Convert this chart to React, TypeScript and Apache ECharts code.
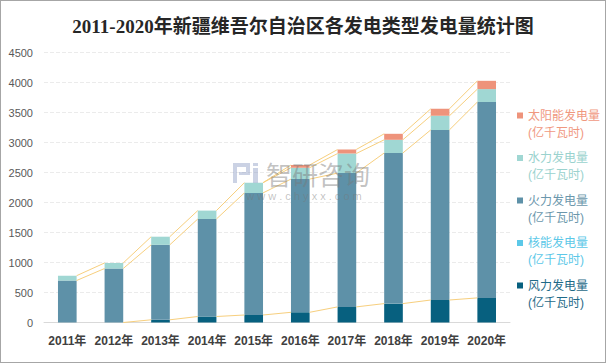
import React, { useEffect, useRef } from "react";
import * as echarts from "echarts";

const categories = ["2011年", "2012年", "2013年", "2014年", "2015年", "2016年", "2017年", "2018年", "2019年", "2020年"];
const windValues: (number | null)[] = [null, 0, 45, 100, 125, 170, 260, 315, 375, 410];
const nuclearValues: (number | null)[] = [null, null, null, null, null, null, null, null, null, null];
const fireValues: (number | null)[] = [700, 900, 1250, 1625, 2035, 2220, 2230, 2510, 2835, 3265];
const hydroValues: (number | null)[] = [80, 92, 135, 140, 170, 190, 326, 220, 235, 215];
const solarValues: (number | null)[] = [null, null, null, null, 0, 45, 67, 100, 116, 138];
const yTicks = { min: 0, max: 4500, interval: 500 };

const seriesNames = [
  "风力发电量(亿千瓦时)",
  "核能发电量(亿千瓦时)",
  "火力发电量(亿千瓦时)",
  "水力发电量(亿千瓦时)",
  "太阳能发电量(亿千瓦时)",
];
const seriesValues = [windValues, nuclearValues, fireValues, hydroValues, solarValues];
const seriesColors = ["#07607F", "#5CC8E8", "#5E91A8", "#A0D7D3", "#EE937B"];
const legendTextColors = ["#1F6A88", "#5CC8E8", "#6B97AC", "#9AD2CE", "#F0987F"];

const FONT = "'Liberation Sans', 'Noto Sans CJK SC', sans-serif";

function buildSeriesLines() {
  const segs: number[][] = [];
  for (let s = 0; s < seriesValues.length; s++) {
    const tops: (number | null)[] = categories.map((_, i) => {
      if (seriesValues[s][i] === null) return null;
      let sum = 0;
      for (let k = 0; k <= s; k++) sum += (seriesValues[k][i] as number) || 0;
      return sum;
    });
    for (let i = 0; i < categories.length - 1; i++) {
      if (tops[i] !== null && tops[i + 1] !== null) segs.push([i, tops[i] as number, i + 1, tops[i + 1] as number]);
    }
  }
  return segs;
}

export default function App() {
  const ref = useRef<HTMLDivElement>(null);
  useEffect(() => {
    if (!ref.current) return;
    const chart = echarts.init(ref.current, undefined, { renderer: "svg" });
    const barSeries = seriesNames.map((name, idx) => ({
      name,
      type: "bar",
      stack: "total",
      barWidth: "40%",
      data: seriesValues[idx],
      itemStyle: { color: seriesColors[idx] },
      z: 2,
    }));
    const legendOrder = [4, 3, 2, 1, 0];
    const wm = "rgba(140,155,195,0.45)";
    const option: any = {
      animation: false,
      backgroundColor: "#ffffff",
      title: {
        text: "2011-2020年新疆维吾尔自治区各发电类型发电量统计图",
        left: "center",
        top: 11,
        textStyle: {
          fontFamily: "'Liberation Serif', 'Noto Sans CJK SC', serif",
          fontSize: 19,
          fontWeight: "bold",
          color: "#262626",
        },
      },
      grid: { left: 43, right: 95, top: 51.5, bottom: 39.5, containLabel: false },
      legend: {
        orient: "vertical",
        left: 516,
        top: 106,
        padding: 0,
        itemGap: 8.5,
        itemWidth: 6,
        itemHeight: 23,
        icon: "path://M0,0H6V6H0Z M0,22.99H0.01V23H0Z",
        selectedMode: false,
        formatter: (n: string) => n.replace("(", "\n("),
        textStyle: { fontFamily: FONT, fontSize: 12, lineHeight: 17 },
        data: legendOrder.map((i) => ({ name: seriesNames[i], textStyle: { color: legendTextColors[i] } })),
      },
      xAxis: {
        type: "category",
        data: categories,
        axisTick: { show: false },
        axisLine: { lineStyle: { color: "#D9D9D9" } },
        axisLabel: { fontFamily: FONT, fontSize: 12, fontWeight: "bold", color: "#404040", margin: 12, interval: 0 },
      },
      yAxis: {
        type: "value",
        min: yTicks.min,
        max: yTicks.max,
        interval: yTicks.interval,
        axisLine: { show: false },
        axisTick: { show: false },
        axisLabel: { fontFamily: FONT, fontSize: 11, color: "#595959", margin: 11, formatter: (v: number) => String(v) },
        splitLine: { lineStyle: { color: "#EBEBEB", type: [4, 2] } },
      },
      graphic: [
        { type: "rect", shape: { x: 232, y: 162, width: 17, height: 4 }, style: { fill: wm }, z: 10 },
        { type: "rect", shape: { x: 232, y: 166, width: 4, height: 16 }, style: { fill: wm }, z: 10 },
        { type: "rect", shape: { x: 245, y: 166, width: 4, height: 8 }, style: { fill: wm }, z: 10 },
        { type: "rect", shape: { x: 238, y: 171, width: 7, height: 3 }, style: { fill: wm }, z: 10 },
        { type: "rect", shape: { x: 252, y: 162, width: 5, height: 3 }, style: { fill: wm }, z: 10 },
        { type: "rect", shape: { x: 252, y: 167, width: 5, height: 15 }, style: { fill: wm }, z: 10 },
        {
          type: "text",
          x: 265,
          y: 172,
          z: 10,
          style: {
            text: "智研咨询",
            font: "26px 'Noto Sans CJK SC', sans-serif",
            fill: "rgba(120,120,120,0.45)",
            verticalAlign: "middle",
          },
        },
        {
          type: "text",
          x: 303,
          y: 195,
          z: 10,
          style: {
            text: "w w w . c h y x x . c o m",
            font: "11px 'Liberation Sans', sans-serif",
            fill: "rgba(120,120,120,0.45)",
            align: "center",
            verticalAlign: "middle",
          },
        },
      ],
      series: [
        ...barSeries,
        {
          type: "custom",
          name: "serieslines",
          silent: true,
          z: 5,
          encode: { x: [0, 2], y: [1, 3] },
          data: buildSeriesLines(),
          renderItem: (params: any, api: any) => {
            const p0 = api.coord([api.value(0), api.value(1)]);
            const p1 = api.coord([api.value(2), api.value(3)]);
            const half = api.size([1, 0])[0] * 0.2;
            return {
              type: "line",
              shape: { x1: p0[0] + half, y1: p0[1], x2: p1[0] - half, y2: p1[1] },
              style: { stroke: "#F7CF7E", lineWidth: 1 },
            };
          },
        },
      ],
    };
    chart.setOption(option);
    return () => chart.dispose();
  }, []);
  return (
    <div
      style={{
        position: "absolute",
        left: 0,
        top: 0,
        width: 606,
        height: 363,
        boxSizing: "border-box",
        border: "1px solid #A6A6A6",
        background: "#fff",
      }}
    >
      <div ref={ref} style={{ width: 604, height: 361 }} />
    </div>
  );
}
